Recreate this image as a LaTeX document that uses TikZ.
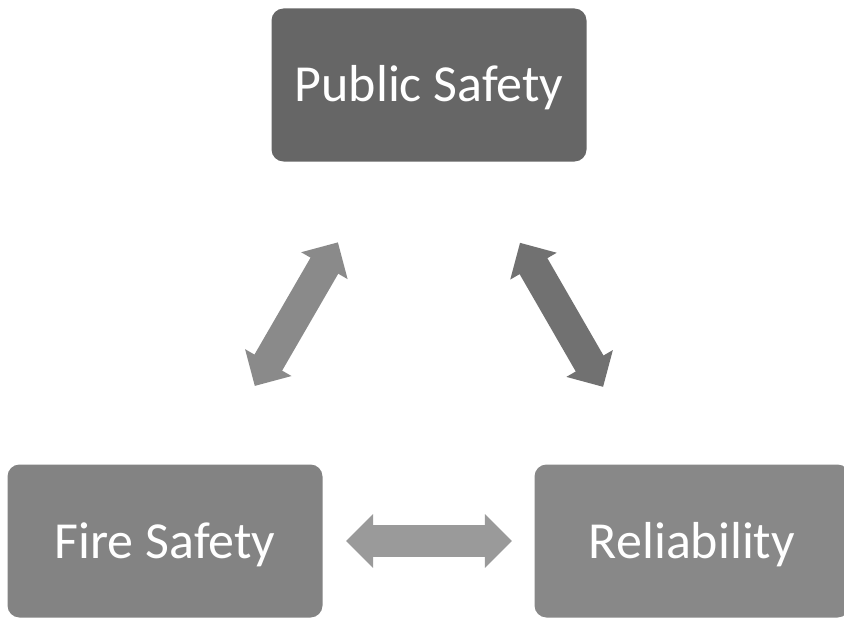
\documentclass[tikz,border=0pt]{standalone}
\usepackage{fontspec}
\setmainfont{Carlito}
\usetikzlibrary{calc,arrows.meta}

\definecolor{pubgray}{HTML}{666666}
\definecolor{firegray}{HTML}{838383}
\definecolor{relgray}{HTML}{888888}
\definecolor{leftgray}{HTML}{8A8A8A}
\definecolor{rightgray}{HTML}{717171}
\definecolor{flatgray}{HTML}{9A9A9A}

\begin{document}
\begin{tikzpicture}[x=1pt,y=-1pt,
  box/.style={rounded corners=12pt,minimum width=315pt,minimum height=153pt,
    text=white,text height=44pt,text depth=10pt,
    font=\fontsize{52}{58}\selectfont},
  link/.style={line width=32pt,
    {Triangle[width=52pt,length=27pt]}-{Triangle[width=52pt,length=27pt]}}]

\useasboundingbox[fill=white] (0,0) rectangle (844,618);
\clip (0,0) rectangle (844,618);

\node[box,fill=pubgray] (pub) at (429,85) {Public Safety};
\node[box,fill=firegray] (fire) at (165,541) {Fire Safety};
\node[box,fill=relgray] (rel) at (692,541) {Reliability};

\draw[link,color=leftgray] ($(fire)!0.34!(pub)$) -- ($(fire)!0.655!(pub)$);
\draw[link,color=rightgray] ($(pub)!0.346!(rel)$) -- ($(pub)!0.662!(rel)$);
\draw[link,color=flatgray] ($(fire)!0.3435!(rel)$) -- ($(fire)!0.6584!(rel)$);
\end{tikzpicture}
\end{document}
